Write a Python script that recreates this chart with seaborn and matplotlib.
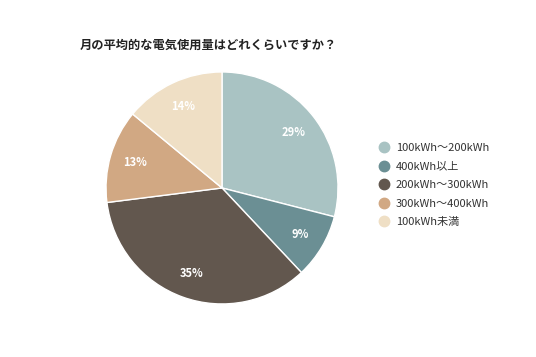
import matplotlib
matplotlib.use("Agg")
import matplotlib.pyplot as plt
from matplotlib.lines import Line2D
import seaborn as sns

# data
labels = ["100kWh～200kWh", "400kWh以上", "200kWh～300kWh", "300kWh～400kWh", "100kWh未満"]
shares = [29, 9, 35, 13, 14]
colors = ["#a9c3c3", "#6b8f94", "#62574e", "#d1a883", "#efdfc5"]
title = "月の平均的な電気使用量はどれくらいですか？"

sns.set_theme(style="white")
plt.rcParams["font.family"] = ["Noto Sans CJK JP", "DejaVu Sans"]

fig = plt.figure(figsize=(5.36, 3.57), dpi=100)
fig.patch.set_facecolor("white")
ax = fig.add_axes([0.1978, 0.1485, 0.4328, 0.65])

wedges, texts, autotexts = ax.pie(
    shares, colors=colors, startangle=90, counterclock=False,
    autopct="%d%%", pctdistance=0.78,
    wedgeprops=dict(edgecolor="white", linewidth=1.0),
    textprops=dict(color="white", fontsize=8, fontweight="bold"),
)
ax.set_aspect("equal")
ax.set_xlim(-1, 1)
ax.set_ylim(-1, 1)
ax.axis("off")

fig.text(80 / 536, 1 - 45 / 357, title, fontsize=8.8, fontweight="bold",
         ha="left", va="center", color="#222222")

handles = [Line2D([], [], marker="o", linestyle="", markersize=7.5,
                  markerfacecolor=c, markeredgecolor=c) for c in colors]
fig.legend(handles, labels, loc="center left", bbox_to_anchor=(372 / 536, 1 - 185 / 357),
           frameon=False, fontsize=8, handletextpad=0.45, labelspacing=0.77,
           handlelength=1.2, labelcolor="#333333", borderpad=0)

fig.savefig("out.png", dpi=100)
